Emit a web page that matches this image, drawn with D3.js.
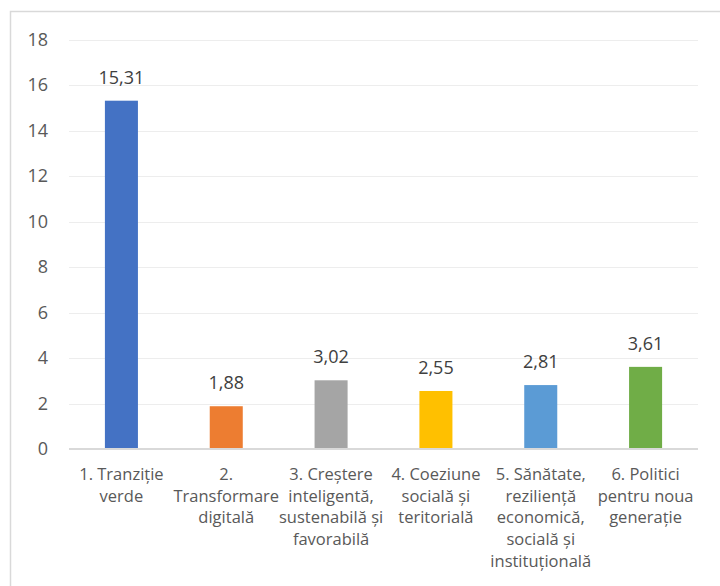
<!DOCTYPE html>
<html><head><meta charset="utf-8">
<script src="https://cdn.jsdelivr.net/npm/d3@7"></script>
<style>html,body{margin:0;padding:0;background:#fff;}svg{display:block;}</style>
</head><body>
<script>
const categories = [
  ["1. Tranziție", "verde"],
  ["2.", "Transformare", "digitală"],
  ["3. Creștere", "inteligentă,", "sustenabilă și", "favorabilă"],
  ["4. Coeziune", "socială și", "teritorială"],
  ["5. Sănătate,", "reziliență", "economică,", "socială și", "instituțională"],
  ["6. Politici", "pentru noua", "generație"]
];
const values = [15.31, 1.88, 3.02, 2.55, 2.81, 3.61];
const valueLabels = ["15,31", "1,88", "3,02", "2,55", "2,81", "3,61"];
const colors = ["#4472C4", "#ED7D31", "#A5A5A5", "#FFC000", "#5B9BD5", "#70AD47"];
const yTicks = [0, 2, 4, 6, 8, 10, 12, 14, 16, 18];

(function () {
const W = 720, H = 586;
const font = "'Open Sans', 'Liberation Sans', sans-serif";
const svg = d3.select("body").append("svg").attr("width", W).attr("height", H);

svg.append("rect").attr("x", 10.5).attr("y", 11.5).attr("width", W + 10).attr("height", H + 10)
  .attr("fill", "#fff").attr("stroke", "#D9D9D9").attr("stroke-width", 1.5);

const pLeft = 69, pRight = 698, pTop = 39.5, pBottom = 449;
const x = d3.scaleBand().domain(d3.range(values.length)).range([pLeft, pRight]).padding(0);
const y = d3.scaleLinear().domain([0, 18]).range([pBottom, pTop]);
const barW = x.bandwidth() * 0.315;

// gridlines
svg.append("g").selectAll("line").data(yTicks.filter(d => d > 0)).join("line")
  .attr("x1", pLeft).attr("x2", pRight)
  .attr("y1", d => Math.round(y(d)) + 0.5).attr("y2", d => Math.round(y(d)) + 0.5)
  .attr("stroke", "#EDEDED").attr("stroke-width", 1);

// y axis labels
const yAxis = d3.axisLeft(y).tickValues(yTicks).tickSize(0).tickPadding(0).tickFormat(d3.format("d"));
const ya = svg.append("g").attr("transform", `translate(48,0)`).call(yAxis);
ya.select(".domain").remove();
ya.selectAll("text").attr("font-family", font).attr("font-size", 18).attr("fill", "#595959");

// bars
svg.append("g").selectAll("rect").data(values).join("rect")
  .attr("x", (d, i) => x(i) + (x.bandwidth() - barW) / 2)
  .attr("y", d => y(d))
  .attr("width", barW)
  .attr("height", d => y(0) - y(d))
  .attr("fill", (d, i) => colors[i]);

// axis line
svg.append("line").attr("x1", pLeft).attr("x2", pRight).attr("y1", pBottom).attr("y2", pBottom)
  .attr("stroke", "#D9D9D9").attr("stroke-width", 2);

// data labels
svg.append("g").selectAll("text").data(values).join("text")
  .attr("x", (d, i) => x(i) + x.bandwidth() / 2)
  .attr("y", d => y(d) - 17)
  .attr("text-anchor", "middle")
  .attr("font-family", font).attr("font-size", 18).attr("fill", "#404040")
  .text((d, i) => valueLabels[i]);

// category labels
const cg = svg.append("g").selectAll("text").data(categories).join("text")
  .attr("text-anchor", "middle")
  .attr("font-family", font).attr("font-size", 16.5).attr("fill", "#595959");
cg.each(function (lines, i) {
  d3.select(this).selectAll("tspan").data(lines).join("tspan")
    .attr("x", x(i) + x.bandwidth() / 2)
    .attr("y", (l, j) => 480 + j * 21.7)
    .text(l => l);
});
})();
</script>
</body></html>
